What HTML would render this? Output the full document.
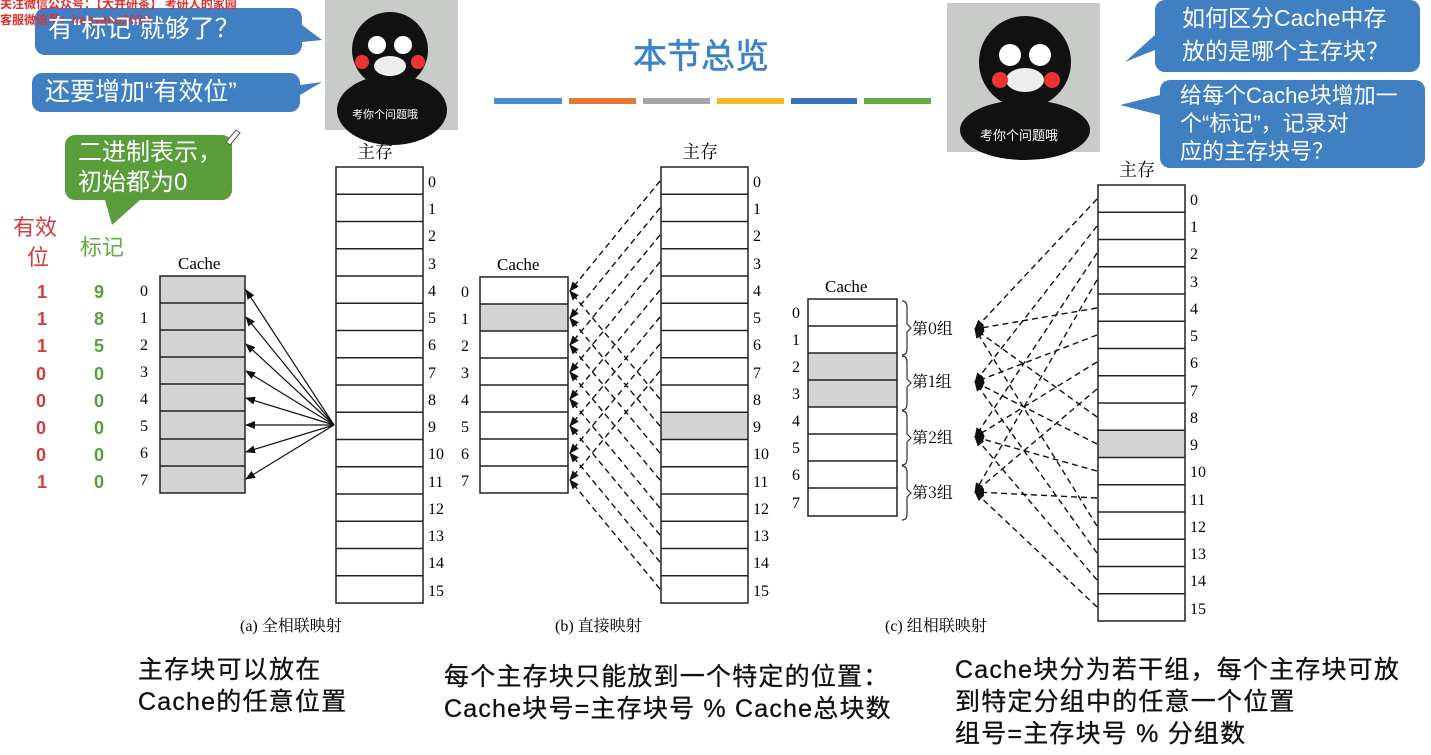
<!DOCTYPE html>
<html><head><meta charset="utf-8"><style>
body{margin:0;width:1431px;height:755px;background:#fff;overflow:hidden;position:relative;font-family:"Liberation Sans","Noto Sans CJK SC",sans-serif}
.b{position:absolute;color:#fff;font-size:25px;line-height:33px}
.t{position:absolute;font-size:25px;letter-spacing:1.2px;color:#111;line-height:32px;-webkit-text-stroke:0.3px #111;white-space:nowrap}
</style></head><body>
<svg width="1431" height="755" style="position:absolute;left:0;top:0" font-family="Liberation Serif,Noto Serif CJK SC,serif">
<defs>
<marker id="ah" markerWidth="10" markerHeight="8" refX="9" refY="4" orient="auto" markerUnits="userSpaceOnUse"><path d="M0,0L10,4L0,8z" fill="#111"/></marker>
</defs>
<path d="M45,8H292a10,10 0 0 1 10,10V25L322,40L302,42V45a10,10 0 0 1-10,10H45a10,10 0 0 1-10-10V18a10,10 0 0 1 10-10z" fill="#3f7fc2"/>
<path d="M42,73H290a10,10 0 0 1 10,10V85L322,82L300,95V102a10,10 0 0 1-10,10H42a10,10 0 0 1-10-10V83a10,10 0 0 1 10-10z" fill="#3f7fc2"/>
<path d="M75,135H222a10,10 0 0 1 10,10V190a10,10 0 0 1-10,10H140L112,225L105,200H75a10,10 0 0 1-10-10V145a10,10 0 0 1 10-10z" fill="#5a9e3c"/>
<path d="M1165,0H1410a10,10 0 0 1 10,10V62a10,10 0 0 1-10,10H1165a10,10 0 0 1-10-10V50L1125,62L1155,35V10a10,10 0 0 1 10-10z" fill="#3f7fc2"/>
<path d="M1170,80H1415a10,10 0 0 1 10,10V158a10,10 0 0 1-10,10H1170a10,10 0 0 1-10-10V115L1120,105L1160,95V90a10,10 0 0 1 10-10z" fill="#3f7fc2"/>
<rect x="325" y="0" width="133" height="130" fill="#c9cbc8"/>
<ellipse cx="392" cy="110" rx="55" ry="35" fill="#111"/><circle cx="390" cy="50" r="38" fill="#111"/>
<circle cx="377" cy="45" r="9" fill="#fff"/><circle cx="403" cy="45" r="9" fill="#fff"/><ellipse cx="390" cy="66" rx="16" ry="10" fill="#eee"/>
<circle cx="362" cy="62" r="7" fill="#e33"/><circle cx="418" cy="62" r="7" fill="#e33"/>
<text x="352" y="118" font-size="11" fill="#fff" font-family="Noto Sans CJK SC,sans-serif">考你个问题哦</text>
<rect x="947" y="3" width="153" height="149" fill="#c9cbc8"/>
<ellipse cx="1025" cy="130" rx="65" ry="30" fill="#111"/><circle cx="1025" cy="62" r="46" fill="#111"/>
<circle cx="1010" cy="55" r="11" fill="#fff"/><circle cx="1040" cy="55" r="11" fill="#fff"/><ellipse cx="1025" cy="80" rx="19" ry="12" fill="#eee"/>
<circle cx="1000" cy="80" r="8" fill="#e33"/><circle cx="1052" cy="80" r="8" fill="#e33"/>
<text x="980" y="140" font-size="13" fill="#fff" font-family="Noto Sans CJK SC,sans-serif">考你个问题哦</text>
<text x="633" y="68" font-size="34" fill="#3c82c4" stroke="#3c82c4" stroke-width="0.6" font-family="Noto Sans CJK SC,sans-serif">本节总览</text>
<g stroke-width="6"><line x1="494" y1="101" x2="562" y2="101" stroke="#4a8fd0"/><line x1="569" y1="101" x2="636" y2="101" stroke="#e27a33"/><line x1="643" y1="101" x2="710" y2="101" stroke="#a5a5a5"/><line x1="717" y1="101" x2="784" y2="101" stroke="#f4b922"/><line x1="791" y1="101" x2="857" y2="101" stroke="#3f6fbf"/><line x1="864" y1="101" x2="931" y2="101" stroke="#6aaa44"/></g>
<text x="178" y="269" font-size="17">Cache</text>
<g fill="#d3d3d3"><rect x="160" y="276" width="85" height="217"/></g>
<path d="M160,276h85v217h-85zM160,303h85M160,330h85M160,357h85M160,384h85M160,411h85M160,439h85M160,466h85" fill="none" stroke="#222" stroke-width="1.5"/>
<g font-size="16"><text x="140" y="296">0</text><text x="140" y="323">1</text><text x="140" y="350">2</text><text x="140" y="377">3</text><text x="140" y="404">4</text><text x="140" y="431">5</text><text x="140" y="458">6</text><text x="140" y="485">7</text></g>
<g font-size="18" font-family="Liberation Sans,sans-serif" font-weight="bold" fill="#d83a3a"><text x="37" y="298">1</text><text x="37" y="325">1</text><text x="37" y="352">1</text><text x="36" y="380">0</text><text x="36" y="407">0</text><text x="36" y="434">0</text><text x="36" y="461">0</text><text x="37" y="488">1</text></g>
<g font-size="18" font-family="Liberation Sans,sans-serif" font-weight="bold" fill="#5a9e3c"><text x="94" y="298">9</text><text x="94" y="325">8</text><text x="94" y="352">5</text><text x="94" y="380">0</text><text x="94" y="407">0</text><text x="94" y="434">0</text><text x="94" y="461">0</text><text x="94" y="488">0</text></g>
<text x="13" y="235" font-size="22" fill="#d83a3a" font-family="Noto Sans CJK SC,sans-serif">有效</text>
<text x="27" y="265" font-size="22" fill="#d83a3a" font-family="Noto Sans CJK SC,sans-serif">位</text>
<text x="80" y="255" font-size="22" fill="#6aaa44" font-family="Noto Sans CJK SC,sans-serif">标记</text>
<g stroke="#111" stroke-width="1.2" marker-end="url(#ah)"><line x1="334" y1="425" x2="246" y2="290"/><line x1="334" y1="425" x2="246" y2="317"/><line x1="334" y1="425" x2="246" y2="344"/><line x1="334" y1="425" x2="246" y2="371"/><line x1="334" y1="425" x2="246" y2="398"/><line x1="334" y1="425" x2="246" y2="425"/><line x1="334" y1="425" x2="246" y2="452"/><line x1="334" y1="425" x2="246" y2="479"/></g>
<g id="mem"><text x="357" y="158" font-size="18" font-family="Noto Serif CJK SC,serif">主存</text>
<path d="M336,167h87v436h-87zM336,194.2h87M336,221.5h87M336,248.7h87M336,276h87M336,303.2h87M336,330.5h87M336,357.7h87M336,385h87M336,412.2h87M336,439.5h87M336,466.7h87M336,494h87M336,521.2h87M336,548.5h87M336,575.7h87" fill="none" stroke="#222" stroke-width="1.5"/>
<g font-size="16"><text x="428" y="187">0</text><text x="428" y="214">1</text><text x="428" y="241">2</text><text x="428" y="269">3</text><text x="428" y="296">4</text><text x="428" y="323">5</text><text x="428" y="350">6</text><text x="428" y="378">7</text><text x="428" y="405">8</text><text x="428" y="432">9</text><text x="428" y="459">10</text><text x="428" y="487">11</text><text x="428" y="514">12</text><text x="428" y="541">13</text><text x="428" y="568">14</text><text x="428" y="596">15</text></g></g>
<text x="240" y="631" font-size="16">(a) 全相联映射</text>
<text x="497" y="270" font-size="17">Cache</text>
<rect x="480" y="304" width="88" height="27" fill="#d3d3d3"/>
<path d="M480,277h88v216h-88zM480,304h88M480,331h88M480,358h88M480,385h88M480,412h88M480,439h88M480,466h88" fill="none" stroke="#222" stroke-width="1.5"/>
<g font-size="16"><text x="461" y="297">0</text><text x="461" y="324">1</text><text x="461" y="351">2</text><text x="461" y="378">3</text><text x="461" y="405">4</text><text x="461" y="432">5</text><text x="461" y="459">6</text><text x="461" y="486">7</text></g>
<g transform="translate(325,0)"><rect x="336" y="412.2" width="87" height="27.3" fill="#d3d3d3"/><use href="#mem"/></g>
<g stroke="#111" stroke-width="1.4" stroke-dasharray="6,4" marker-end="url(#ah)">
<line x1="660" y1="181" x2="570" y2="291"/><line x1="660" y1="208" x2="570" y2="318"/><line x1="660" y1="235" x2="570" y2="345"/><line x1="660" y1="262" x2="570" y2="372"/><line x1="660" y1="290" x2="570" y2="399"/><line x1="660" y1="317" x2="570" y2="426"/><line x1="660" y1="344" x2="570" y2="453"/><line x1="660" y1="371" x2="570" y2="480"/>
<line x1="660" y1="399" x2="570" y2="291"/><line x1="660" y1="426" x2="570" y2="318"/><line x1="660" y1="453" x2="570" y2="345"/><line x1="660" y1="480" x2="570" y2="372"/><line x1="660" y1="508" x2="570" y2="399"/><line x1="660" y1="535" x2="570" y2="426"/><line x1="660" y1="562" x2="570" y2="453"/><line x1="660" y1="589" x2="570" y2="480"/></g>
<text x="555" y="631" font-size="16">(b) 直接映射</text>
<text x="825" y="292" font-size="17">Cache</text>
<rect x="808" y="353" width="89" height="54" fill="#d3d3d3"/>
<path d="M808,299h89v217h-89zM808,326h89M808,353h89M808,380h89M808,407h89M808,434h89M808,461h89M808,488h89" fill="none" stroke="#222" stroke-width="1.5"/>
<g font-size="16"><text x="792" y="318">0</text><text x="792" y="345">1</text><text x="792" y="372">2</text><text x="792" y="399">3</text><text x="792" y="426">4</text><text x="792" y="453">5</text><text x="792" y="480">6</text><text x="792" y="508">7</text></g>
<g fill="none" stroke="#333" stroke-width="1.2"><path d="M902,301q5,0 5,6v17l4,4l-4,4v17q0,6-5,6"/><path d="M902,356q5,0 5,6v17l4,4l-4,4v17q0,6-5,6"/><path d="M902,411q5,0 5,6v17l4,4l-4,4v17q0,6-5,6"/><path d="M902,466q5,0 5,6v17l4,4l-4,4v17q0,6-5,6"/></g>
<g font-size="16" font-family="Noto Serif CJK SC,serif"><text x="912" y="334">第0组</text><text x="912" y="387">第1组</text><text x="912" y="443">第2组</text><text x="912" y="498">第3组</text></g>
<g transform="translate(762,18)"><rect x="336" y="412.2" width="87" height="27.3" fill="#d3d3d3"/><use href="#mem"/></g>
<g stroke="#111" stroke-width="1.4" stroke-dasharray="6,4" marker-end="url(#ah)">
<line x1="1097" y1="199" x2="975" y2="329"/><line x1="1097" y1="226" x2="975" y2="382"/><line x1="1097" y1="253" x2="975" y2="437"/><line x1="1097" y1="280" x2="975" y2="492"/>
<line x1="1097" y1="308" x2="975" y2="329"/><line x1="1097" y1="335" x2="975" y2="382"/><line x1="1097" y1="362" x2="975" y2="437"/><line x1="1097" y1="389" x2="975" y2="492"/>
<line x1="1097" y1="417" x2="975" y2="329"/><line x1="1097" y1="444" x2="975" y2="382"/><line x1="1097" y1="471" x2="975" y2="437"/><line x1="1097" y1="498" x2="975" y2="492"/>
<line x1="1097" y1="526" x2="975" y2="329"/><line x1="1097" y1="553" x2="975" y2="382"/><line x1="1097" y1="580" x2="975" y2="437"/><line x1="1097" y1="607" x2="975" y2="492"/></g>
<text x="885" y="631" font-size="16">(c) 组相联映射</text>
<path d="M226,142l10-12l4,3l-10,12z" fill="#fff" stroke="#555"/>
</svg>
<div style="position:absolute;left:0;top:-4px;font-size:12px;color:#e03030;font-weight:bold;line-height:16px;font-family:'Noto Sans CJK SC',sans-serif">关注微信公众号：【大并研茶】 考研人的家园<br>客服微信号：kaoyana2020</div>
<div class="b" style="left:48px;top:13px">有“标记”就够了？</div>
<div class="b" style="left:45px;top:76px">还要增加“有效位”</div>
<div class="b" style="left:78px;top:138px;font-size:24px;line-height:30px">二进制表示，<br>初始都为0</div>
<div class="b" style="left:1182px;top:2px;font-size:23px;line-height:33px">如何区分Cache中存<br>放的是哪个主存块？</div>
<div class="b" style="left:1180px;top:82px;font-size:22px;line-height:28px">给每个Cache块增加一<br>个“标记”，记录对<br>应的主存块号？</div>
<div class="t" style="left:138px;top:654px">主存块可以放在<br>Cache的任意位置</div>
<div class="t" style="left:444px;top:661px">每个主存块只能放到一个特定的位置：<br>Cache块号=主存块号 % Cache总块数</div>
<div class="t" style="left:955px;top:654px">Cache块分为若干组，每个主存块可放<br>到特定分组中的任意一个位置<br>组号=主存块号 % 分组数</div>
</body></html>
